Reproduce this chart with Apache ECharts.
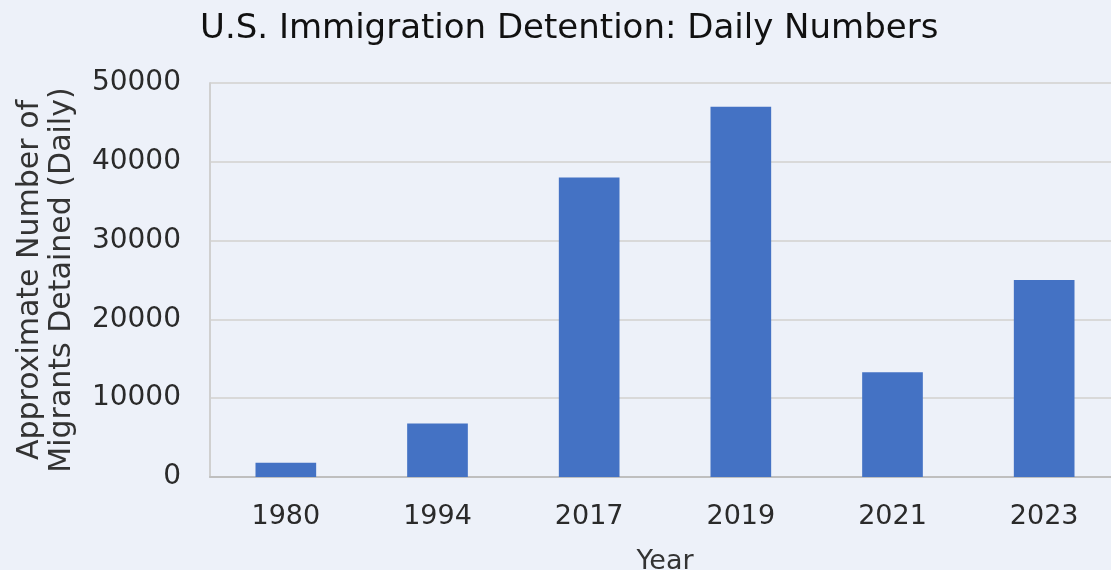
<!DOCTYPE html>
<html>
<head>
<meta charset="utf-8">
<script src="https://cdn.jsdelivr.net/npm/echarts@6/dist/echarts.min.js"></script>
<style>
html,body{margin:0;padding:0;background:#EDF1F9;}
#chart{width:1111px;height:570px;}
</style>
</head>
<body>
<div id="chart"></div>
<script>
const years = ['1980', '1994', '2017', '2019', '2021', '2023'];
const detained = [1800, 6800, 38000, 47000, 13300, 25000];
const titleText = 'U.S. Immigration Detention: Daily Numbers';
const yAxisName = 'Approximate Number of\nMigrants Detained (Daily)';
const xAxisName = 'Year';

const FONT = '"DejaVu Sans", "Open Sans", sans-serif';
const chart = echarts.init(document.getElementById('chart'));
chart.setOption({
  backgroundColor: '#EDF1F9',
  animation: false,
  title: {
    text: titleText,
    left: 195,
    top: 7,
    textStyle: { fontFamily: FONT, fontSize: 34, fontWeight: 'normal', color: '#111' }
  },
  grid: { left: 210, right: -9, top: 83, bottom: 93, containLabel: false, outerBoundsMode: 'none' },
  xAxis: {
    type: 'category',
    data: years,
    name: xAxisName,
    nameLocation: 'middle',
    nameGap: 71,
    nameTextStyle: { fontFamily: FONT, fontSize: 27, color: '#333' },
    axisLine: { lineStyle: { color: '#BFBFBF', width: 2 } },
    axisTick: { show: false },
    axisLabel: { fontFamily: FONT, fontSize: 27, color: '#2a2a2a', margin: 26 }
  },
  yAxis: {
    type: 'value',
    min: 0, max: 50000, interval: 10000,
    name: yAxisName,
    nameLocation: 'middle',
    nameGap: 132,
    nameRotate: 90,
    nameTextStyle: { fontFamily: FONT, fontSize: 30, color: '#333', lineHeight: 32 },
    axisLine: { show: true, lineStyle: { color: '#D0D0D0', width: 2 } },
    axisTick: { show: false },
    splitLine: { lineStyle: { color: '#D9D9D9', width: 2 } },
    axisLabel: { fontFamily: FONT, fontSize: 28, color: '#2a2a2a', margin: 29, formatter: v => String(v) }
  },
  series: [{
    type: 'bar',
    data: detained,
    barWidth: '40%',
    itemStyle: { color: '#4472C4' }
  }]
});
</script>
</body>
</html>
